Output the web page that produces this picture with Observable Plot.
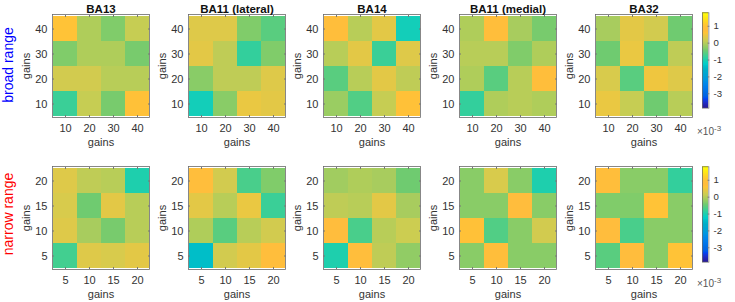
<!DOCTYPE html>
<html>
<head>
<meta charset="utf-8">
<script src="https://cdn.jsdelivr.net/npm/d3@7"></script>
<script src="https://cdn.jsdelivr.net/npm/@observablehq/plot@0.6"></script>
<style>
  body { margin: 0; background: #fff; }
  #wrap { position: relative; width: 735px; height: 302px; overflow: hidden; font-family: "Liberation Sans", Arial, sans-serif; }
  #wrap > div.p { position: absolute; }
  .rowlab { position: absolute; font-size: 14px; white-space: nowrap; transform: translate(-50%, -50%) rotate(-90deg); }
  .exp { position: absolute; font-size: 10px; color: #555; }
  .exp sup { font-size: 8px; }
</style>
</head>
<body>
<div id="wrap"></div>
<script>
// ---------------- data (values in units of 1e-3) ----------------
const regions = ["BA13", "BA11 (lateral)", "BA14", "BA11 (medial)", "BA32"];
const broadGains = [10, 20, 30, 40];
const narrowGains = [5, 10, 15, 20];
const colorTicks = [1, 0, -1, -2, -3];
const colorDomain = [-3.85, 1.8];

// each matrix: rows from top (highest gain) to bottom (lowest gain), columns left->right
const broad_BA13      = [[0.6, -0.05, -0.35, 0.1], [-0.35, -0.05, -0.05, -0.4], [0.2, 0.2, 0.0, 0.0], [-0.8, 0.1, -0.4, 0.65]];
const broad_BA11lat   = [[0.3, 0.3, -0.35, -0.6], [0.35, 0.05, -0.85, -0.35], [-0.3, 0.05, 0.05, 0.3], [-1.1, -0.3, 0.4, 0.35]];
const broad_BA14      = [[0.7, 0.0, 0.35, -1.1], [0.0, 0.35, -0.8, 0.3], [-0.6, 0.0, 0.35, 0.05], [-0.2, -0.65, 0.1, 0.65]];
const broad_BA11med   = [[-0.05, 0.7, -0.1, -0.4], [0.0, 0.0, -0.35, -0.05], [-0.05, -0.6, 0.0, 0.7], [-0.85, -0.05, 0.0, -0.05]];
const broad_BA32      = [[-0.1, 0.35, 0.2, -0.45], [-0.45, 0.4, -0.55, 0.05], [0.25, -0.6, 0.45, 0.3], [0.4, 0.1, -0.45, 0.0]];

const narrow_BA13     = [[0.3, 0.05, 0.0, -1.0], [0.25, -0.45, 0.35, 0.0], [0.3, -0.1, -0.4, 0.0], [-0.75, 0.3, 0.25, 0.35]];
const narrow_BA11lat  = [[0.75, 0.2, -0.7, -0.35], [0.35, 0.0, 0.4, -0.8], [-0.05, -0.6, 0.0, 0.2], [-1.4, 0.2, 0.35, 0.75]];
const narrow_BA14     = [[-0.15, -0.05, -0.1, -0.45], [0.05, 0.0, 0.35, -0.1], [0.8, -0.7, 0.0, 0.15], [-1.0, 0.75, 0.05, -0.25]];
const narrow_BA11med  = [[-0.3, 0.25, -0.3, -1.0], [-0.3, -0.3, 0.8, -0.3], [0.65, -0.65, -0.3, 0.2], [-0.3, 0.7, -0.3, -0.3]];
const narrow_BA32     = [[0.7, -0.3, -0.3, -0.85], [-0.35, -0.35, 0.6, -0.3], [0.8, -0.7, -0.3, -0.3], [-0.6, 0.8, -0.3, 0.6]];

const broadMats = [broad_BA13, broad_BA11lat, broad_BA14, broad_BA11med, broad_BA32];
const narrowMats = [narrow_BA13, narrow_BA11lat, narrow_BA14, narrow_BA11med, narrow_BA32];

// ---------------- parula colormap ----------------
const parulaRGB = [
[0.2081,0.1663,0.5292],[0.2116,0.1898,0.5777],[0.2123,0.2138,0.6270],[0.2081,0.2386,0.6771],[0.1959,0.2645,0.7279],[0.1707,0.2919,0.7792],[0.1253,0.3242,0.8303],[0.0591,0.3598,0.8683],
[0.0117,0.3875,0.8820],[0.0060,0.4086,0.8828],[0.0165,0.4266,0.8786],[0.0329,0.4430,0.8720],[0.0498,0.4586,0.8641],[0.0629,0.4737,0.8554],[0.0723,0.4887,0.8467],[0.0779,0.5040,0.8384],
[0.0793,0.5200,0.8312],[0.0749,0.5375,0.8263],[0.0641,0.5570,0.8240],[0.0488,0.5772,0.8228],[0.0343,0.5966,0.8199],[0.0265,0.6137,0.8135],[0.0239,0.6287,0.8038],[0.0231,0.6418,0.7913],
[0.0228,0.6535,0.7768],[0.0267,0.6642,0.7607],[0.0384,0.6743,0.7436],[0.0590,0.6838,0.7254],[0.0843,0.6928,0.7062],[0.1133,0.7015,0.6859],[0.1453,0.7098,0.6646],[0.1801,0.7177,0.6424],
[0.2178,0.7250,0.6193],[0.2586,0.7317,0.5954],[0.3022,0.7376,0.5712],[0.3482,0.7424,0.5473],[0.3953,0.7459,0.5244],[0.4420,0.7481,0.5033],[0.4871,0.7491,0.4840],[0.5300,0.7491,0.4661],
[0.5709,0.7485,0.4494],[0.6099,0.7473,0.4337],[0.6473,0.7456,0.4188],[0.6834,0.7435,0.4044],[0.7184,0.7411,0.3905],[0.7525,0.7384,0.3768],[0.7858,0.7356,0.3633],[0.8185,0.7327,0.3498],
[0.8507,0.7299,0.3360],[0.8824,0.7274,0.3217],[0.9139,0.7258,0.3063],[0.9450,0.7261,0.2886],[0.9739,0.7314,0.2666],[0.9938,0.7455,0.2403],[0.9990,0.7653,0.2164],[0.9955,0.7861,0.1967],
[0.9880,0.8066,0.1794],[0.9789,0.8271,0.1633],[0.9697,0.8481,0.1475],[0.9626,0.8705,0.1309],[0.9589,0.8949,0.1132],[0.9598,0.9218,0.0948],[0.9661,0.9514,0.0755],[0.9763,0.9831,0.0538]];
const parulaBase = d3.piecewise(d3.interpolateRgb, parulaRGB.map(c => d3.rgb(c[0]*255, c[1]*255, c[2]*255)));
// the reference rendering is somewhat more saturated than the raw map
const parula = t => { const h = d3.hsl(parulaBase(t)); h.s = Math.min(1, h.s * 1.35); return h.formatRgb(); };

const colorScale = {type: "linear", domain: colorDomain, interpolate: () => parula, clamp: true};
const font = {fontFamily: "'Liberation Sans', Arial, sans-serif", fontSize: "11px", color: "#333", background: "transparent"};

// ---------------- layout ----------------
const wrap = document.getElementById("wrap");
const panelLefts = [52, 188, 323, 459, 595];
const rowTops = [14, 166];
const PW = 97, PH = 103;
const ML = 44, MR = 4, MT = 16, MB = 36;

function place(node, left, top) {
  const d = document.createElement("div");
  d.className = "p";
  d.style.left = left + "px";
  d.style.top = top + "px";
  d.appendChild(node);
  wrap.appendChild(d);
}

function panel(mat, gains, title) {
  const rows = gains.slice().reverse();
  const cells = [];
  mat.forEach((r, i) => r.forEach((v, j) => cells.push({x: gains[j], y: rows[i], v})));
  const marks = [
    Plot.cell(cells, {x: "x", y: "y", fill: "v", inset: 0, shapeRendering: "crispEdges"}),
    Plot.frame({stroke: "#6a6a6a", strokeWidth: 0.8}),
    Plot.axisX({anchor: "bottom", tickSize: 0, tickPadding: 7, label: "gains", labelAnchor: "center", labelArrow: "none", labelOffset: 28, fill: "#333"}),
    Plot.axisX({anchor: "bottom", tickSize: -2, text: null, label: null, stroke: "#777"}),
    Plot.axisX({anchor: "top", tickSize: -2, text: null, label: null, stroke: "#777"}),
    Plot.axisY({anchor: "left", tickSize: 0, tickPadding: 5, label: "gains", labelAnchor: "center", labelArrow: "none", labelOffset: 30, fill: "#333"}),
    Plot.axisY({anchor: "left", tickSize: -2, text: null, label: null, stroke: "#777"}),
    Plot.axisY({anchor: "right", tickSize: -2, text: null, label: null, stroke: "#777"})
  ];
  if (title) marks.push(Plot.text([title], {frameAnchor: "top", dy: -10, fontWeight: "bold", fontSize: 11.5, fill: "#111"}));
  return Plot.plot({
    width: ML + PW + MR, height: MT + PH + MB,
    marginLeft: ML, marginRight: MR, marginTop: MT, marginBottom: MB,
    x: {type: "band", domain: gains, padding: 0},
    y: {type: "band", domain: rows, padding: 0},
    color: colorScale,
    style: font,
    marks
  });
}

function colorbar() {
  const step = 0.02;
  const bins = d3.range(colorDomain[0], colorDomain[1], step);
  return Plot.plot({
    width: 36, height: 8 + 104 + 8,
    marginLeft: 0, marginRight: 29, marginTop: 8, marginBottom: 8,
    x: {domain: [0, 1], axis: null},
    y: {domain: colorDomain},
    color: colorScale,
    style: font,
    marks: [
      Plot.rect(bins, {x1: 0, x2: 1, y1: d => d, y2: d => Math.min(d + step + 0.005, colorDomain[1]), fill: d => d + step / 2, shapeRendering: "crispEdges"}),
      Plot.frame({stroke: "#6a6a6a", strokeWidth: 0.8}),
      Plot.axisY({anchor: "right", ticks: colorTicks, tickSize: -2, tickPadding: 7, tickFormat: d => String(d), label: null, fill: "#333", fontSize: 10.5, stroke: "#777"})
    ]
  });
}

broadMats.forEach((m, k) => place(panel(m, broadGains, regions[k]), panelLefts[k] - ML, rowTops[0] - MT));
narrowMats.forEach((m, k) => place(panel(m, narrowGains, null), panelLefts[k] - ML, rowTops[1] - MT));
place(colorbar(), 702, 13 - 8);
place(colorbar(), 702, 167 - 8);

// row labels
[["broad range", "#0000ff", 65], ["narrow range", "#ff0000", 214]].forEach(([t, c, cy]) => {
  const d = document.createElement("div");
  d.className = "rowlab";
  d.textContent = t;
  d.style.color = c;
  d.style.left = "8px";
  d.style.top = cy + "px";
  wrap.appendChild(d);
});
// exponent labels
[124, 276].forEach(top => {
  const d = document.createElement("div");
  d.className = "exp";
  d.innerHTML = "×10<sup>-3</sup>";
  d.style.left = "697px";
  d.style.top = top + "px";
  wrap.appendChild(d);
});
</script>
</body>
</html>
